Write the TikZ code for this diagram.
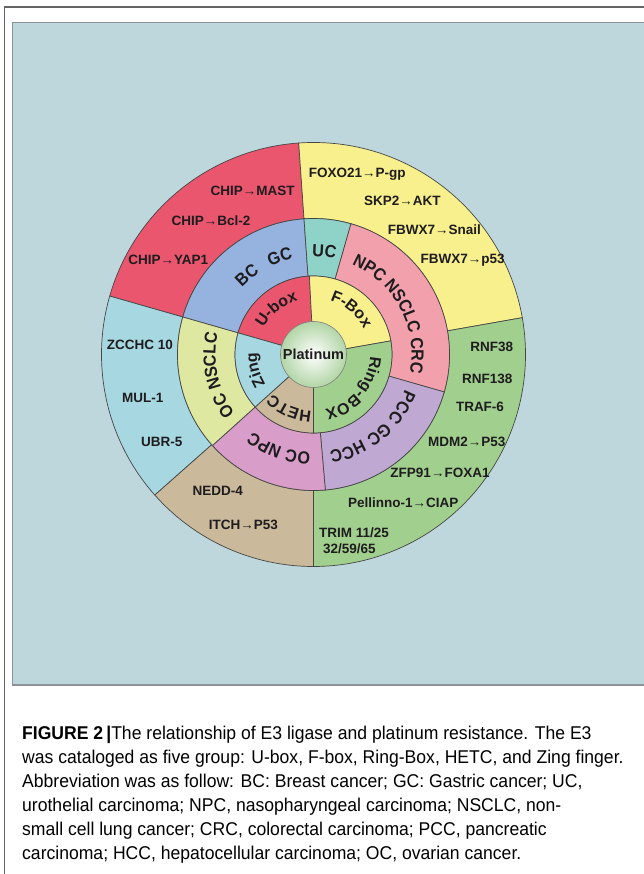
\documentclass[tikz,border=0pt]{standalone}
\usepackage{fontspec}
\setmainfont{Liberation Sans}
\newfontfamily\capfont[FakeStretch=0.95]{Liberation Sans}
\newfontfamily\ringfam[FakeStretch=0.92]{Liberation Sans}
\usepackage{tikz}
\usetikzlibrary{decorations.text}

\definecolor{panelbg}{RGB}{190,215,220}
\definecolor{panelline}{RGB}{138,146,152}
\definecolor{frameline}{RGB}{100,100,100}
\definecolor{secline}{RGB}{70,70,70}
\definecolor{labtext}{RGB}{30,28,30}
\definecolor{ubred}{RGB}{233,86,110}
\definecolor{fyellow}{RGB}{248,240,140}
\definecolor{rgreen}{RGB}{161,207,142}
\definecolor{htan}{RGB}{202,185,154}
\definecolor{zblue}{RGB}{167,216,226}
\definecolor{bcblue}{RGB}{149,179,222}
\definecolor{ucteal}{RGB}{143,210,200}
\definecolor{npcpink}{RGB}{242,160,172}
\definecolor{pccpurple}{RGB}{191,169,211}
\definecolor{ocmag}{RGB}{216,157,200}
\definecolor{oclime}{RGB}{222,232,160}
\definecolor{platgreen}{RGB}{178,213,166}

\newcommand\midfont{\ringfam\bfseries\fontsize{17.5}{17.5}\selectfont}
\newcommand\innfont{\bfseries\fontsize{16}{16}\selectfont}

\tikzset{
  sec/.style={draw=secline, line width=0.7pt},
  lab/.style={font=\bfseries\fontsize{13.5}{16}\selectfont, text=labtext, inner sep=0pt},
  captxt/.style={font=\capfont\fontsize{18.5}{22}\selectfont, text=black, inner sep=0pt, anchor=base west},
  ringtxt/.style={decorate, decoration={text along path, text align=center, text color=labtext, text={#1}}}
}

\begin{document}
\begin{tikzpicture}[x=1pt, y=1pt]

\useasboundingbox (-313.5,-519.5) rectangle (330.5,354.5);

% frame and panel
\draw[frameline, line width=1.3pt] (-309,-519.5) -- (-309,347.5) -- (330.5,347.5);
\fill[panelbg] (-300.8,331.8) rectangle (330.5,-330.5);
\draw[panelline, line width=1.5pt] (330.5,331.8) -- (-300.8,331.8) -- (-300.8,-330.5) -- (330.5,-330.5);

% outer ring
\filldraw[sec, fill=ubred] (94:136) arc[start angle=94, end angle=164, radius=136] -- (164:212) arc[start angle=164, end angle=94, radius=212] -- cycle;
\filldraw[sec, fill=fyellow] (10:136) arc[start angle=10, end angle=94, radius=136] -- (94:212) arc[start angle=94, end angle=10, radius=212] -- cycle;
\filldraw[sec, fill=rgreen] (-90:136) arc[start angle=-90, end angle=10, radius=136] -- (10:212) arc[start angle=10, end angle=-90, radius=212] -- cycle;
\filldraw[sec, fill=htan] (221.5:136) arc[start angle=221.5, end angle=270, radius=136] -- (270:212) arc[start angle=270, end angle=221.5, radius=212] -- cycle;
\filldraw[sec, fill=zblue] (164:136) arc[start angle=164, end angle=221.5, radius=136] -- (221.5:212) arc[start angle=221.5, end angle=164, radius=212] -- cycle;

% middle ring
\filldraw[sec, fill=bcblue] (94:78.5) arc[start angle=94, end angle=164, radius=78.5] -- (164:136) arc[start angle=164, end angle=94, radius=136] -- cycle;
\filldraw[sec, fill=ucteal] (74:78.5) arc[start angle=74, end angle=94, radius=78.5] -- (94:136) arc[start angle=94, end angle=74, radius=136] -- cycle;
\filldraw[sec, fill=npcpink] (-16:78.5) arc[start angle=-16, end angle=74, radius=78.5] -- (74:136) arc[start angle=74, end angle=-16, radius=136] -- cycle;
\filldraw[sec, fill=pccpurple] (-85:78.5) arc[start angle=-85, end angle=-16, radius=78.5] -- (-16:136) arc[start angle=-16, end angle=-85, radius=136] -- cycle;
\filldraw[sec, fill=ocmag] (222:78.5) arc[start angle=222, end angle=275, radius=78.5] -- (275:136) arc[start angle=275, end angle=222, radius=136] -- cycle;
\filldraw[sec, fill=oclime] (164:78.5) arc[start angle=164, end angle=222, radius=78.5] -- (222:136) arc[start angle=222, end angle=164, radius=136] -- cycle;

% inner ring
\filldraw[sec, fill=ubred] (93:30) arc[start angle=93, end angle=164, radius=30] -- (164:78.5) arc[start angle=164, end angle=93, radius=78.5] -- cycle;
\filldraw[sec, fill=fyellow] (10:30) arc[start angle=10, end angle=93, radius=30] -- (93:78.5) arc[start angle=93, end angle=10, radius=78.5] -- cycle;
\filldraw[sec, fill=rgreen] (-90:30) arc[start angle=-90, end angle=10, radius=30] -- (10:78.5) arc[start angle=10, end angle=-90, radius=78.5] -- cycle;
\filldraw[sec, fill=htan] (222:30) arc[start angle=222, end angle=270, radius=30] -- (270:78.5) arc[start angle=270, end angle=222, radius=78.5] -- cycle;
\filldraw[sec, fill=zblue] (164:30) arc[start angle=164, end angle=222, radius=30] -- (222:78.5) arc[start angle=222, end angle=164, radius=78.5] -- cycle;

% centre
\node[circle, minimum size=66pt, inner sep=0pt, draw=secline!70, line width=0.6pt, shading=radial, inner color=white, outer color=platgreen, font=\bfseries\fontsize{14.5}{14.5}\selectfont, text=labtext] (plat) at (0,0) {Platinum};

% curved labels, middle ring
\path[ringtxt={|\midfont|BC}] (220:98) arc[start angle=220, end angle=40, radius=98];
\path[ringtxt={|\midfont|GC}] (199:98) arc[start angle=199, end angle=19, radius=98];
\path[ringtxt={|\midfont|UC}] (174:98) arc[start angle=174, end angle=-6, radius=98];
\path[ringtxt={|\midfont|NPC NSCLC CRC}] (118:98) arc[start angle=118, end angle=-62, radius=98];
\path[ringtxt={|\midfont|PCC GC HCC}] (39:98) arc[start angle=39, end angle=-141, radius=98];
\path[ringtxt={|\midfont|OC NPC}] (340:98) arc[start angle=340, end angle=160, radius=98];
\path[ringtxt={|\midfont|OC NSCLC}] (282:98) arc[start angle=282, end angle=102, radius=98];

% curved labels, inner ring
\path[ringtxt={|\innfont|U-box}] (219:56.5) arc[start angle=219, end angle=39, radius=56.5];
\path[ringtxt={|\innfont|F-Box}] (140:56.5) arc[start angle=140, end angle=-40, radius=56.5];
\path[ringtxt={|\innfont|Ring-BOX}] (50:56.5) arc[start angle=50, end angle=-130, radius=56.5];
\path[ringtxt={|\innfont|HETC}] (336:56.5) arc[start angle=336, end angle=156, radius=56.5];
\path[ringtxt={|\innfont|Zing}] (285:56.5) arc[start angle=285, end angle=105, radius=56.5];

% outer ring labels
\node[lab] (chipmast) at (-60.8,163.8) {CHIP→MAST};
\node[lab] (chipbcl) at (-102.5,133.8) {CHIP→Bcl-2};
\node[lab] (chipyap) at (-145.2,94.5) {CHIP→YAP1};
\node[lab] (foxo) at (43.8,180.5) {FOXO21→P-gp};
\node[lab] (skp) at (88.8,153.8) {SKP2→AKT};
\node[lab] (fbwsnail) at (120.8,124.5) {FBWX7→Snail};
\node[lab] (fbwp) at (149.2,94.5) {FBWX7→p53};
\node[lab] (zcchc) at (-173.5,9.5) {ZCCHC 10};
\node[lab] (mul) at (-170.8,-43.8) {MUL-1};
\node[lab] (ubr) at (-151.8,-87.2) {UBR-5};
\node[lab] (rnfa) at (178.2,7.8) {RNF38};
\node[lab] (rnfb) at (173.8,-24.8) {RNF138};
\node[lab] (traf) at (166.5,-52.2) {TRAF-6};
\node[lab] (mdm) at (153.2,-87.2) {MDM2→P53};
\node[lab] (zfp) at (126.5,-118.2) {ZFP91→FOXA1};
\node[lab] (pell) at (89.8,-148.2) {Pellinno-1→CIAP};
\node[lab] (trima) at (40.5,-178.2) {TRIM 11/25};
\node[lab] (trimb) at (35.8,-193.8) {32/59/65};
\node[lab] (nedd) at (-95.8,-136.5) {NEDD-4};
\node[lab] (itch) at (-70.2,-170.5) {ITCH→P53};

% caption
\node[captxt] (capa) at (-291.5,-384.5) {{\bfseries FIGURE 2\,|}The relationship of E3 ligase and platinum resistance. The E3};
\node[captxt] (capb) at (-291.5,-408.5) {was cataloged as five group: U-box, F-box, Ring-Box, HETC, and Zing finger.};
\node[captxt] (capc) at (-291.5,-432.5) {Abbreviation was as follow: BC: Breast cancer; GC: Gastric cancer; UC,};
\node[captxt] (capd) at (-291.5,-456.5) {urothelial carcinoma; NPC, nasopharyngeal carcinoma; NSCLC, non-};
\node[captxt] (cape) at (-291.5,-480.5) {small cell lung cancer; CRC, colorectal carcinoma; PCC, pancreatic};
\node[captxt] (capf) at (-291.5,-504.5) {carcinoma; HCC, hepatocellular carcinoma; OC, ovarian cancer.};

\end{tikzpicture}
\end{document}
